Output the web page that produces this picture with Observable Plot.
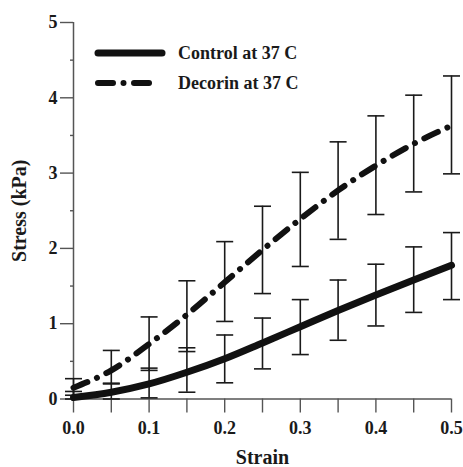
<!DOCTYPE html>
<html><head><meta charset="utf-8">
<script src="https://cdn.jsdelivr.net/npm/d3@7"></script>
<script src="https://cdn.jsdelivr.net/npm/@observablehq/plot@0.6"></script>
<style>
body{margin:0;background:#fff;}
#chart{position:relative;width:463px;height:467px;}
#legend{position:absolute;left:0;top:0;pointer-events:none;}
</style></head><body><div id="chart"></div>
<script>
const strain = [0, 0.05, 0.1, 0.15, 0.2, 0.25, 0.3, 0.35, 0.4, 0.45, 0.5];
const controlMean = [0.02, 0.09, 0.2, 0.355, 0.535, 0.745, 0.96, 1.175, 1.38, 1.58, 1.775];
const controlLo   = [0.0, 0.0, 0.015, 0.09, 0.215, 0.40, 0.59, 0.78, 0.97, 1.15, 1.32];
const controlHi   = [0.10, 0.21, 0.41, 0.68, 0.85, 1.075, 1.32, 1.58, 1.79, 2.02, 2.21];
const decorinMean = [0.15, 0.38, 0.73, 1.12, 1.55, 1.98, 2.39, 2.77, 3.1, 3.39, 3.63];
const decorinLo   = [0.05, 0.2, 0.38, 0.63, 1.03, 1.40, 1.76, 2.12, 2.45, 2.75, 2.99];
const decorinHi   = [0.27, 0.645, 1.09, 1.57, 2.09, 2.56, 3.01, 3.415, 3.76, 4.035, 4.29];
const seriesNames = ["Control at 37 C", "Decorin at 37 C"];
const xTicks = [0, 0.05, 0.1, 0.15, 0.2, 0.25, 0.3, 0.35, 0.4, 0.45, 0.5];
const xTickLabels = ["0.0", "", "0.1", "", "0.2", "", "0.3", "", "0.4", "", "0.5"];
const yTicks = [0, 1, 2, 3, 4, 5];
const yMinorTicks = [0.5, 1.5, 2.5, 3.5, 4.5];
const xTitle = "Strain";
const yTitle = "Stress (kPa)";

const rows = [];
strain.forEach((s, i) => {
  rows.push({series: seriesNames[0], strain: s, mean: controlMean[i], lo: controlLo[i], hi: controlHi[i]});
  rows.push({series: seriesNames[1], strain: s, mean: decorinMean[i], lo: decorinLo[i], hi: decorinHi[i]});
});
const control = rows.filter(d => d.series === seriesNames[0]);
const decorin = rows.filter(d => d.series === seriesNames[1]);
const labelOf = new Map(xTicks.map((t, i) => [t, xTickLabels[i]]));

const font = "'Liberation Serif', 'Times New Roman', serif";
const ink = "#1a1a1a";
const axisGray = "#555";
const dash = "15,10.5,0.01,10.5";
const capSymbol = {draw(ctx) { ctx.moveTo(-8.5, 0); ctx.lineTo(8.5, 0); }};

const chart = Plot.plot({
  width: 463, height: 467,
  marginLeft: 73, marginRight: 12, marginTop: 22, marginBottom: 68.5,
  style: {fontFamily: font, fontWeight: "bold", fontSize: "18px", color: ink, background: "#fff"},
  x: {domain: [0, 0.5]},
  y: {domain: [0, 5]},
  marks: [
    Plot.axisX({ticks: xTicks, tickSize: 14, tickPadding: 8, tickFormat: d => labelOf.get(d) ?? "",
      stroke: axisGray, strokeWidth: 1.4, fill: ink, fontSize: 18, label: null}),
    Plot.axisX({ticks: [], label: xTitle, labelAnchor: "center", labelArrow: "none", labelOffset: 64.5, fontSize: 20, fill: ink}),
    Plot.axisY({ticks: yTicks, tickSize: 13, tickPadding: 3, tickFormat: d => String(d),
      stroke: axisGray, strokeWidth: 1.4, fill: ink, fontSize: 18, label: null}),
    Plot.axisY({ticks: [], label: yTitle, labelAnchor: "center", labelArrow: "none", labelOffset: 62, fontSize: 20, fill: ink}),
    Plot.axisY({ticks: yMinorTicks, tickSize: 3, tickFormat: () => "", stroke: axisGray, strokeWidth: 1.4, label: null}),
    Plot.ruleY([0], {stroke: axisGray, strokeWidth: 1.5}),
    Plot.ruleX([0], {stroke: axisGray, strokeWidth: 1.5}),
    Plot.ruleX(rows, {x: "strain", y1: "lo", y2: "hi", stroke: ink, strokeWidth: 1.6}),
    Plot.dot(rows, {x: "strain", y: "lo", symbol: capSymbol, fill: "none", stroke: ink, strokeWidth: 1.6}),
    Plot.dot(rows, {x: "strain", y: "hi", symbol: capSymbol, fill: "none", stroke: ink, strokeWidth: 1.6}),
    Plot.line(control, {x: "strain", y: "mean", curve: "monotone-x", stroke: "#111", strokeWidth: 7, strokeLinecap: "round"}),
    Plot.line(decorin, {x: "strain", y: "mean", curve: "monotone-x", stroke: "#111", strokeWidth: 6, strokeLinecap: "round", strokeDasharray: dash})
  ]
});
const host = document.getElementById("chart");
host.appendChild(chart);

// legend overlay
const lg = d3.select(host).append("svg").attr("id", "legend").attr("width", 463).attr("height", 467);
const items = [
  {name: seriesNames[0], y: 53, x2: 162, w: 7, dash: null},
  {name: seriesNames[1], y: 83, x2: 157, w: 6, dash: dash}
];
items.forEach(it => {
  lg.append("line").attr("x1", 98).attr("x2", it.x2).attr("y1", it.y).attr("y2", it.y)
    .attr("stroke", "#111").attr("stroke-width", it.w).attr("stroke-linecap", "round")
    .attr("stroke-dasharray", it.dash);
  lg.append("text").attr("x", 178).attr("y", it.y + 5.5).text(it.name)
    .attr("font-family", font).attr("font-weight", "bold").attr("font-size", 18).attr("fill", ink);
});
</script></body></html>
